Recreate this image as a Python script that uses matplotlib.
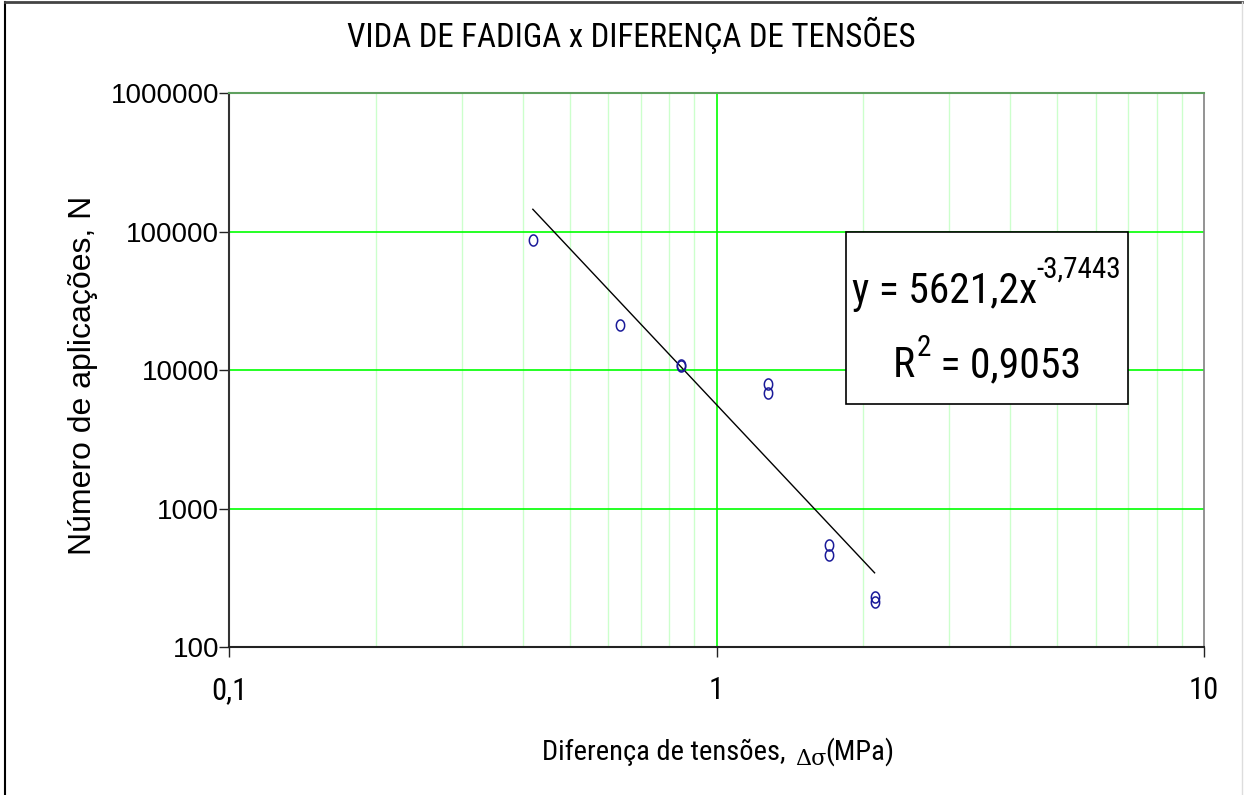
import os
import numpy as np
import matplotlib
matplotlib.use("Agg")
import matplotlib.pyplot as plt
from matplotlib import font_manager
from matplotlib.font_manager import FontProperties
from matplotlib.path import Path
from matplotlib.lines import Line2D
from matplotlib.ticker import FixedLocator, NullLocator

# Fatigue test results
delta_sigma = [0.420, 0.6325, 0.844, 0.844, 1.274, 1.274, 1.70, 1.70, 2.11, 2.11]
n_cycles = [87100, 20960, 10800, 10700, 7960, 6820, 548, 464, 230, 210]

# Power-law fit  N = a * x^b
fit_a = 5621.2
fit_b = -3.7443
fit_r2 = 0.9053

x_ticks = [0.1, 1, 10]
x_tick_labels = ["0,1", "1", "10"]
y_ticks = [100, 1000, 10000, 100000, 1000000]
y_tick_labels = ["100", "1000", "10000", "100000", "1000000"]

W, H = 1244, 795
fig = plt.figure(figsize=(W / 100, H / 100), dpi=100)
fig.patch.set_facecolor("white")

REG = ["Liberation Sans", "DejaVu Sans"]


def narrow_font_file():
    """Pick a condensed sans-serif face if one is installed."""
    wanted = ["LiberationSansNarrow-Regular", "ArialNarrow", "ArialN",
              "RobotoCondensed-Regular", "OpenSansCondensed", "OpenSans_Condensed-Regular",
              "DejaVuSansCondensed"]
    files = font_manager.findSystemFonts() + [f.fname for f in font_manager.fontManager.ttflist]
    for w in wanted:
        for f in files:
            base = os.path.splitext(os.path.basename(f))[0]
            if base.replace(" ", "") == w or base.startswith(w + "."):
                return f
    for f in files:
        base = os.path.basename(f).lower()
        if ("condensed" in base or "narrow" in base) and "bold" not in base \
                and "italic" not in base and "light" not in base and "oblique" not in base:
            return f
    return None


_nf = narrow_font_file()


def NF(size):
    if _nf:
        return FontProperties(fname=_nf, size=size)
    return FontProperties(family=REG, size=size * 0.85)


def px(x, y):
    return x / W, 1 - y / H


left, right, top, bottom = 229, 1204, 93, 647
ax = fig.add_axes([left / W, 1 - bottom / H, (right - left) / W, (bottom - top) / H])
ax.set_xscale("log")
ax.set_yscale("log")
ax.set_xlim(0.1, 10)
ax.set_ylim(100, 1000000)

# grid: minor vertical lines pale, major lines bright green
minor_x = [m * 10.0 ** e for e in (-1, 0) for m in range(2, 10)]
for v in minor_x:
    ax.axvline(v, color="#ccffcc", lw=1.0, zorder=0)
for v in x_ticks[1:-1]:
    ax.axvline(v, color="#00ff00", lw=1.2, zorder=0)
for v in y_ticks[1:-1]:
    ax.axhline(v, color="#00ff00", lw=1.2, zorder=0)

ax.xaxis.set_major_locator(FixedLocator(x_ticks))
ax.yaxis.set_major_locator(FixedLocator(y_ticks))
ax.xaxis.set_minor_locator(NullLocator())
ax.yaxis.set_minor_locator(NullLocator())
ax.set_xticklabels(x_tick_labels, fontproperties=NF(22))
ax.set_yticklabels(y_tick_labels, family=REG, fontsize=20)
ax.tick_params(axis="both", which="major", direction="out", length=7, width=1,
               color="#222222")
ax.tick_params(axis="y", pad=0)
ax.tick_params(axis="x", pad=14)

for side, col in (("left", "#333333"), ("bottom", "#222222"),
                  ("top", "#5fa05f"), ("right", "#808080")):
    ax.spines[side].set_color(col)
    ax.spines[side].set_linewidth(1.5 if side in ("left", "bottom", "top") else 1.2)

# trend line over the data range
xs = np.logspace(np.log10(min(delta_sigma)), np.log10(max(delta_sigma)), 200)
ax.plot(xs, fit_a * xs ** fit_b, color="black", lw=1.0, zorder=2)

# open elliptical markers
t = np.linspace(0, 2 * np.pi, 41)
ell = Path(np.column_stack([0.75 * np.cos(t), np.sin(t)]))
ax.plot(delta_sigma, n_cycles, linestyle="none", marker=ell, markersize=8,
        markerfacecolor="none", markeredgecolor="#1a1a99", markeredgewidth=1.1,
        zorder=3)

fig.canvas.draw()
r = fig.canvas.get_renderer()


def width_px(txt):
    return txt.get_window_extent(r).width


# title and axis labels
fig.text(*px(631, 35), "VIDA DE FADIGA x DIFERENÇA DE TENSÕES",
         fontproperties=NF(23.7), ha="center", va="center")
fig.text(*px(83, 375), "Número de aplicações, N", family=REG, fontsize=23,
         rotation=90, ha="center", va="center")
fig.text(*px(785, 760), "Diferença de tensões,", fontproperties=NF(20.5),
         ha="right", va="baseline")
fig.text(*px(795, 765), "Δσ", family=["DejaVu Serif"], fontsize=16,
         ha="left", va="baseline")
fig.text(*px(894, 760), "(MPa)", fontproperties=NF(20.5), ha="right", va="baseline")

# equation box
bx0, bx1, by0, by1 = 846, 1128, 232, 404
box = plt.Rectangle(px(bx0, by1), (bx1 - bx0) / W, (by1 - by0) / H,
                    transform=fig.transFigure, facecolor="white",
                    edgecolor="black", lw=1.2, zorder=5)
fig.add_artist(box)
cx = (bx0 + bx1) / 2

eq_main = "y = 5621,2x"
eq_sup = f"{fit_b:.4f}".replace(".", ",")
r2_main = f" = {fit_r2:.4f}".replace(".", ",")

a1 = fig.text(0, 0, eq_main, fontproperties=NF(30), ha="left", va="baseline", zorder=6)
a2 = fig.text(0, 0, eq_sup, fontproperties=NF(21), ha="left", va="baseline", zorder=6)
w1, w2 = width_px(a1), width_px(a2)
x0 = cx - (w1 + w2) / 2
a1.set_position(px(x0, 303))
a2.set_position(px(x0 + w1 - 1, 278))

b1 = fig.text(0, 0, "R", fontproperties=NF(30), ha="left", va="baseline", zorder=6)
b2 = fig.text(0, 0, "2", fontproperties=NF(21), ha="left", va="baseline", zorder=6)
b3 = fig.text(0, 0, r2_main, fontproperties=NF(30), ha="left", va="baseline", zorder=6)
v1, v2, v3 = width_px(b1), width_px(b2), width_px(b3)
x0 = cx - (v1 + v2 + v3 + 2) / 2
b1.set_position(px(x0, 377))
b2.set_position(px(x0 + v1 + 2, 356))
b3.set_position(px(x0 + v1 + v2 + 2, 377))

# outer frame of the chart area
fig.add_artist(Line2D([5 / W, 5 / W], [0, 1 - 2 / H], transform=fig.transFigure,
                      color="black", lw=1.5))
fig.add_artist(Line2D([5 / W, 1242 / W], [1 - 2 / H, 1 - 2 / H],
                      transform=fig.transFigure, color="#444444", lw=2))
fig.add_artist(Line2D([1242 / W, 1242 / W], [0, 1 - 2 / H],
                      transform=fig.transFigure, color="#dddddd", lw=1))

fig.savefig("out.png", dpi=100)
